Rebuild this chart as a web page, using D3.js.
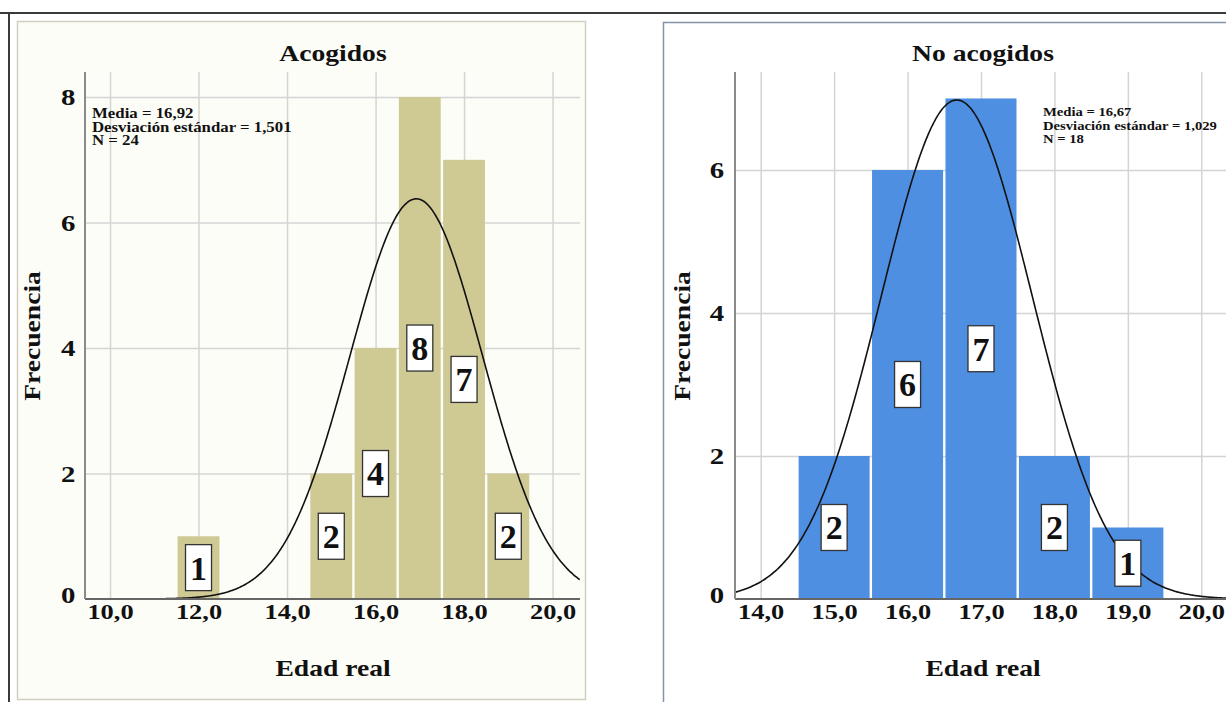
<!DOCTYPE html>
<html>
<head>
<meta charset="utf-8">
<script src="https://cdn.jsdelivr.net/npm/d3@7"></script>
<style>
body { margin: 0; background: #fff; }
text { font-family: "Liberation Serif", "Times New Roman", serif; font-weight: bold; fill: #111; }
</style>
</head>
<body>
<script>
// Acogidos
var acogidosEdad = [12, 15, 16, 17, 18, 19];
var acogidosFrec = [1, 2, 4, 8, 7, 2];
var acogidosStats = ["Media = 16,92", "Desviación estándar = 1,501", "N = 24"];
var acogidosMedia = 16.92, acogidosDesv = 1.501, acogidosN = 24;
var acogidosXTicks = [10, 12, 14, 16, 18, 20];
var acogidosYTicks = [0, 2, 4, 6, 8];

// No acogidos
var noAcogidosEdad = [15, 16, 17, 18, 19];
var noAcogidosFrec = [2, 6, 7, 2, 1];
var noAcogidosStats = ["Media = 16,67", "Desviación estándar = 1,029", "N = 18"];
var noAcogidosMedia = 16.67, noAcogidosDesv = 1.029, noAcogidosN = 18;
var noAcogidosXTicks = [14, 15, 16, 17, 18, 19, 20];
var noAcogidosYTicks = [0, 2, 4, 6];

var es = d3.formatLocale({decimal: ",", thousands: ".", grouping: [3], currency: ["", " €"]});
var fmt1 = es.format(".1f");
var SX = 1.2; // the original text is a bit wide

var svg = d3.select("body").append("svg")
    .attr("width", 1226)
    .attr("height", 702);

// page frame lines
svg.append("line").attr("x1", 0).attr("x2", 1226).attr("y1", 13).attr("y2", 13)
    .attr("stroke", "#3a3a3a").attr("stroke-width", 2);
svg.append("line").attr("x1", 9).attr("x2", 9).attr("y1", 13).attr("y2", 702)
    .attr("stroke", "#3a3a3a").attr("stroke-width", 2);

// panel backgrounds
svg.append("rect").attr("x", 17.5).attr("y", 21.5).attr("width", 568).attr("height", 678)
    .attr("fill", "#fdfdf8").attr("stroke", "#d2cfbf").attr("stroke-width", 1.5);
svg.append("rect").attr("x", 663.5).attr("y", 22.5).attr("width", 600).attr("height", 700)
    .attr("fill", "#ffffff").attr("stroke", "#8592a8").attr("stroke-width", 1.5);

function wideText(parent, x, y, str, size, anchor, rot) {
    return parent.append("text")
        .attr("transform", "translate(" + x + "," + y + ") rotate(" + (rot || 0) + ") scale(" + SX + ",1)")
        .attr("text-anchor", anchor || "middle")
        .attr("font-size", size)
        .text(str);
}

function drawPanel(o) {
    var top = 72, bottom = 599;
    var g = svg.append("g");
    var x = d3.scaleLinear().domain(o.xDomain).range([o.left, o.right]);
    var y = d3.scaleLinear().domain([0, o.yMax]).range([bottom, top]);

    var clipId = "clip" + o.id;
    g.append("clipPath").attr("id", clipId).append("rect")
        .attr("x", o.left).attr("y", top - 5).attr("width", o.right - o.left).attr("height", bottom - top + 5);

    // grid
    g.append("g").attr("transform", "translate(0," + bottom + ")")
        .call(d3.axisBottom(x).tickValues(o.xTicks).tickSize(-(bottom - top)).tickFormat(""))
        .call(a => a.select(".domain").remove())
        .selectAll("line").attr("stroke", "#d4d4d4").attr("stroke-width", 1.5);
    g.append("g").attr("transform", "translate(" + o.left + ",0)")
        .call(d3.axisLeft(y).tickValues(o.yTicks.filter(v => v > 0)).tickSize(-(o.right - o.left)).tickFormat(""))
        .call(a => a.select(".domain").remove())
        .selectAll("line").attr("stroke", "#d4d4d4").attr("stroke-width", 1.5);

    // bars
    var bars = g.append("g").attr("clip-path", "url(#" + clipId + ")");
    bars.selectAll("rect").data(o.edad).join("rect")
        .attr("x", d => x(d - 0.5) + 1.2)
        .attr("width", d => x(d + 0.5) - x(d - 0.5) - 2.4)
        .attr("y", (d, i) => y(o.frec[i]))
        .attr("height", (d, i) => bottom - y(o.frec[i]))
        .attr("fill", o.color);

    // normal curve
    var line = d3.line()
        .x(d => x(d))
        .y(d => y(o.n / (o.sd * Math.sqrt(2 * Math.PI)) * Math.exp(-0.5 * Math.pow((d - o.mean) / o.sd, 2))))
        .curve(d3.curveBasis);
    var pts = d3.range(o.xDomain[0], o.xDomain[1] + 0.01, 0.02);
    g.append("path").datum(pts)
        .attr("clip-path", "url(#" + clipId + ")")
        .attr("d", line)
        .attr("fill", "none")
        .attr("stroke", "#111")
        .attr("stroke-width", 1.6);

    // axes
    var xa = g.append("g").attr("transform", "translate(0," + bottom + ")")
        .call(d3.axisBottom(x).tickValues(o.xTicks).tickSize(0).tickPadding(4).tickFormat(fmt1));
    xa.select(".domain").attr("stroke", "#666").attr("stroke-width", 2)
        .attr("d", "M" + o.left + ",0H" + o.right);
    xa.selectAll("text").attr("font-size", 22).attr("font-family", null).attr("fill", "#111")
        .attr("transform", "scale(" + SX + ",1)");

    var ya = g.append("g").attr("transform", "translate(" + o.left + ",0)")
        .call(d3.axisLeft(y).tickValues(o.yTicks).tickSize(0).tickPadding(o.left > 600 ? 9 : 8).tickFormat(d3.format("d")));
    ya.select(".domain").attr("stroke", "#8a8a8a").attr("stroke-width", 2)
        .attr("d", "M0," + bottom + "V" + top);
    ya.selectAll("text").attr("font-size", 24).attr("font-family", null).attr("fill", "#111")
        .attr("transform", "scale(" + SX + ",1)");
    ya.select(".tick text").attr("dy", "0.15em");

    // value labels
    var lab = g.append("g");
    lab.selectAll("rect").data(o.edad).join("rect")
        .attr("x", d => x(d) - 13)
        .attr("y", (d, i) => y(o.frec[i] / 2) - 23)
        .attr("width", 26)
        .attr("height", 46)
        .attr("fill", "#fff")
        .attr("stroke", "#333")
        .attr("stroke-width", 1.3);
    lab.selectAll("text").data(o.edad).join("text")
        .attr("x", d => x(d))
        .attr("y", (d, i) => y(o.frec[i] / 2))
        .attr("dy", "0.35em")
        .attr("text-anchor", "middle")
        .attr("font-size", 34)
        .text((d, i) => o.frec[i]);

    // titles
    wideText(g, o.cx, 61, o.title, 23);
    wideText(g, o.cx, 676, "Edad real", 23);
    wideText(g, o.yTitleX, 336, "Frecuencia", 23, "middle", -90);

    // stats
    o.stats.forEach(function (s, i) {
        wideText(g, o.statsX, o.statsY + i * 13.5, s, o.statsSize, "start");
    });
}

drawPanel({
    id: "a", title: "Acogidos", edad: acogidosEdad, frec: acogidosFrec,
    mean: acogidosMedia, sd: acogidosDesv, n: acogidosN, stats: acogidosStats,
    xTicks: acogidosXTicks, yTicks: acogidosYTicks,
    xDomain: [9.435, 20.62], yMax: 8.4, left: 85, right: 580,
    color: "#cfc994", cx: 333, yTitleX: 40, statsX: 92, statsY: 118, statsSize: 14
});

drawPanel({
    id: "b", title: "No acogidos", edad: noAcogidosEdad, frec: noAcogidosFrec,
    mean: noAcogidosMedia, sd: noAcogidosDesv, n: noAcogidosN, stats: noAcogidosStats,
    xTicks: noAcogidosXTicks, yTicks: noAcogidosYTicks,
    xDomain: [13.65, 20.5], yMax: 7.37, left: 735, right: 1238,
    color: "#4f8fe2", cx: 983, yTitleX: 690, statsX: 1043, statsY: 116, statsSize: 12.2
});
</script>
</body>
</html>
